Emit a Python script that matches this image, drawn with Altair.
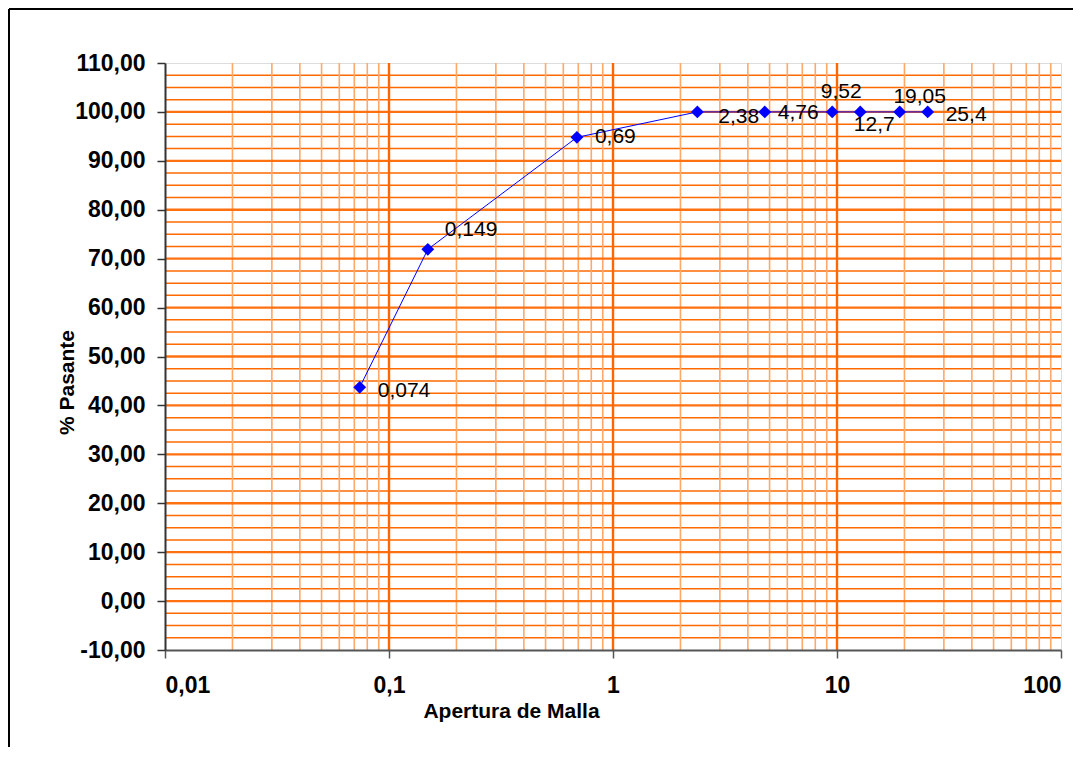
import altair as alt
import pandas as pd

# --- data ---
apertura = [0.074, 0.149, 0.69, 2.38, 4.76, 9.52, 12.7, 19.05, 25.4]
pasante = [43.7, 71.9, 94.8, 100.0, 100.0, 100.0, 100.0, 100.0, 100.0]
etiquetas = ["0,074", "0,149", "0,69", "2,38", "4,76", "9,52", "12,7", "19,05", "25,4"]

x_ticks = [0.01, 0.1, 1, 10, 100]
y_ticks = [-10, 0, 10, 20, 30, 40, 50, 60, 70, 80, 90, 100, 110]

# grid positions
x_major_grid = [0.1, 1, 10]
x_minor_grid = [m * d for d in [0.01, 0.1, 1, 10] for m in range(2, 10)]
y_major_grid = [0, 10, 20, 30, 40, 50, 60, 70, 80, 90, 100]
y_minor_grid = [v / 2 for v in range(-20, 221, 5) if v % 20 != 0]

# label placement (style): dx, dy, align
label_style = {
    "0,074": (18, 4, "left"),
    "0,149": (17, -19, "left"),
    "0,69": (18, 0, "left"),
    "2,38": (21, 5, "left"),
    "4,76": (13, 1, "left"),
    "9,52": (9, -20, "center"),
    "12,7": (14, 13, "center"),
    "19,05": (20, -15, "center"),
    "25,4": (18, 3, "left"),
}

df = pd.DataFrame({"x": apertura, "y": pasante, "lab": etiquetas})

FONT = "Liberation Sans"
W, H = 896, 587

xscale = alt.Scale(type="log", domain=[0.01, 100], nice=False)
yscale = alt.Scale(domain=[-10, 110], nice=False, zero=False)

x_axis = alt.Axis(
    values=x_ticks,
    labelExpr="replace(format(datum.value, '~g'), '.', ',')",
    grid=False,
    labelFont=FONT, labelFontSize=23, labelFontWeight="bold", labelColor="black",
    labelPadding=16, tickSize=8, tickColor="#555555", tickWidth=1.5,
    domainColor="#555555", domainWidth=2,
    title="Apertura de Malla", titleFont=FONT, titleFontSize=21, titleFontWeight="bold",
    titleColor="black", titleX=346, titleY=67, titleBaseline="alphabetic", titleAlign="center",
    zindex=1,
)
y_axis = alt.Axis(
    values=y_ticks,
    labelExpr="replace(replace(format(datum.value, '.2f'), '.', ','), '\u2212', '-')",
    grid=False,
    labelFont=FONT, labelFontSize=23, labelFontWeight="bold", labelColor="black",
    labelPadding=12, tickSize=8, tickColor="#333333", tickWidth=1.5,
    domainColor="#333333", domainWidth=2,
    title="% Pasante", titleFont=FONT, titleFontSize=21, titleFontWeight="bold",
    titleColor="black", titleX=-92, titleY=319, titleBaseline="alphabetic", titleAlign="center",
    titleAngle=270,
    zindex=1,
)

one = alt.Data(values=[{"a": 1}])
border_top = alt.Chart(one).mark_rule(color="black", strokeWidth=2).encode(
    x=alt.value(-156), x2=alt.value(908), y=alt.value(-54)
)
border_left = alt.Chart(one).mark_rule(color="black", strokeWidth=2).encode(
    x=alt.value(-156), y=alt.value(-54), y2=alt.value(684)
)

def vrules(vals, color, width):
    return alt.Chart(pd.DataFrame({"v": vals})).mark_rule(color=color, strokeWidth=width).encode(
        x=alt.X("v:Q", scale=xscale, axis=x_axis)
    )

def hrules(vals, color, width):
    return alt.Chart(pd.DataFrame({"v": vals})).mark_rule(color=color, strokeWidth=width).encode(
        y=alt.Y("v:Q", scale=yscale, axis=y_axis)
    )

h_minor = hrules(y_minor_grid, "#FF6A00", 1.5)
h_major = hrules(y_major_grid, "#FF7010", 2.4)
v_minor = vrules(x_minor_grid, "#FFA868", 1.6)
v_major = vrules(x_major_grid, "#FF6600", 2.4)

base = alt.Chart(df).encode(
    x=alt.X("x:Q", scale=xscale, axis=x_axis),
    y=alt.Y("y:Q", scale=yscale, axis=y_axis),
)
line = base.mark_line(color="#0000FF", strokeWidth=1)
points = base.mark_point(shape="diamond", filled=True, color="#0000FF", size=165, opacity=1)

texts = []
for lab in etiquetas:
    dx, dy, al = label_style[lab]
    texts.append(
        base.transform_filter(alt.datum.lab == lab).mark_text(
            font=FONT, fontSize=21, color="black", dx=dx, dy=dy, align=al, baseline="middle"
        ).encode(text="lab:N")
    )

chart = alt.layer(
    h_minor, v_minor, h_major, v_major, line, points, *texts, border_top, border_left
).properties(
    width=W, height=H, padding=0
).configure_view(
    stroke="#808080", strokeWidth=2
).configure(background="white")

chart.save("out.html", embed_options={"renderer": "svg", "actions": False})
